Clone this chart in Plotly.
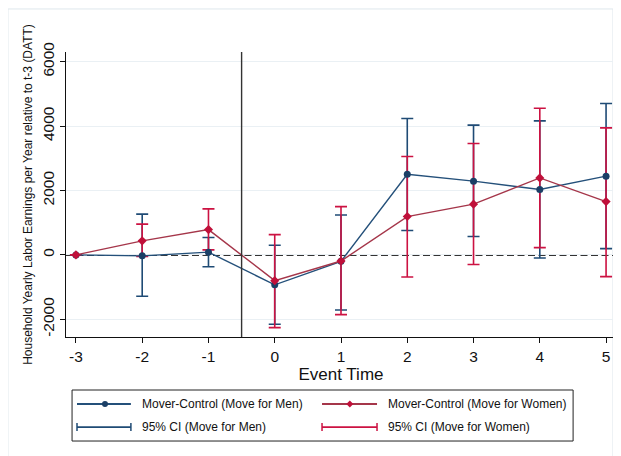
import plotly.graph_objects as go

event_time = [-3, -2, -1, 0, 1, 2, 3, 4, 5]

men_est = [0, -30, 85, -930, -200, 2505, 2290, 2030, 2445]
men_lo = [0, -1285, -370, -2155, -1710, 755, 570, -95, 195]
men_hi = [0, 1265, 540, 300, 1240, 4235, 4030, 4160, 4700]

women_est = [0, 435, 785, -800, -190, 1190, 1575, 2390, 1655]
women_lo = [0, -50, 155, -2260, -1855, -685, -300, 225, -675]
women_hi = [0, 955, 1430, 630, 1500, 3055, 3460, 4555, 3945]

y_ticks = [-2000, 0, 2000, 4000, 6000]

BLUE_LINE = "#24507a"
BLUE_MK = "#1b3f66"
BLUE_CI = "#1f4b75"
RED_LINE = "#a5364a"
RED_MK = "#c0103a"
RED_CI = "#cc1242"
FONT = "Arial, Liberation Sans, sans-serif"

fig = go.Figure()

# confidence intervals first so the lines sit on top
for est, lo, hi, col in [(men_est, men_lo, men_hi, BLUE_CI),
                         (women_est, women_lo, women_hi, RED_CI)]:
    fig.add_trace(go.Scatter(
        x=event_time, y=est, mode="markers",
        marker=dict(color="rgba(0,0,0,0)", size=1),
        error_y=dict(type="data", symmetric=False,
                     array=[h - e for h, e in zip(hi, est)],
                     arrayminus=[e - l for e, l in zip(est, lo)],
                     color=col, thickness=1.6, width=6),
        showlegend=False, hoverinfo="skip", cliponaxis=False))

fig.add_trace(go.Scatter(
    x=event_time, y=men_est, mode="lines+markers",
    line=dict(color=BLUE_LINE, width=1.4),
    marker=dict(color=BLUE_MK, size=7, symbol="circle"),
    showlegend=False, cliponaxis=False))
fig.add_trace(go.Scatter(
    x=event_time, y=women_est, mode="lines+markers",
    line=dict(color=RED_LINE, width=1.4),
    marker=dict(color=RED_MK, size=7, symbol="diamond"),
    showlegend=False, cliponaxis=False))

shapes = [
    # outer frame
    dict(type="rect", xref="paper", yref="paper", x0=-0.1055, x1=0.9945,
         y0=-0.45, y1=1.151, line=dict(color="#dfe7ec", width=1), layer="below"),
    dict(type="line", xref="x", yref="paper", x0=-0.5, x1=-0.5, y0=0, y1=1,
         line=dict(color="#333333", width=1.4)),
    dict(type="line", xref="paper", yref="y", x0=0, x1=1, y0=0, y1=0,
         line=dict(color="#333333", width=2, dash="7px,3.5px"), layer="between"),
    # legend box
    dict(type="rect", xref="paper", yref="paper", x0=0.011, x1=0.922,
         y0=-0.365, y1=-0.186, line=dict(color="#222222", width=1)),
]

annotations = []
legend_rows = [
    (-0.235, 0.020, 0.118, 0.0709, BLUE_LINE, BLUE_MK, "circle", 0.1345,
     "Mover-Control (Move for Men)"),
    (-0.235, 0.4655, 0.5655, 0.516, RED_LINE, RED_MK, "diamond", 0.5818,
     "Mover-Control (Move for Women)"),
]
for yy, xa, xb, xm, lc, mc, sym, xt, txt in legend_rows:
    shapes.append(dict(type="line", xref="paper", yref="paper", x0=xa, x1=xb,
                       y0=yy, y1=yy, line=dict(color=lc, width=2)))
    if sym == "circle":
        shapes.append(dict(type="circle", xref="paper", yref="paper",
                           xsizemode="pixel", ysizemode="pixel", xanchor=xm, yanchor=yy,
                           x0=-3, x1=3, y0=-3, y1=3, fillcolor=mc, line=dict(width=0)))
    else:
        shapes.append(dict(type="path", xref="paper", yref="paper",
                           xsizemode="pixel", ysizemode="pixel", xanchor=xm, yanchor=yy,
                           path="M 0 -3.5 L 3.5 0 L 0 3.5 L -3.5 0 Z",
                           fillcolor=mc, line=dict(width=0)))
    annotations.append(dict(xref="paper", yref="paper", x=xt, y=yy, text=txt,
                            showarrow=False, xanchor="left", yanchor="middle",
                            font=dict(family=FONT, size=12, color="#111111")))

ci_rows = [
    (-0.316, 0.020, 0.118, BLUE_CI, 0.1345, "95% CI (Move for Men)"),
    (-0.316, 0.4655, 0.5655, RED_CI, 0.5818, "95% CI (Move for Women)"),
]
for yy, xa, xb, col, xt, txt in ci_rows:
    shapes.append(dict(type="line", xref="paper", yref="paper", x0=xa, x1=xb,
                       y0=yy, y1=yy, line=dict(color=col, width=1.8)))
    for xc in (xa, xb):
        shapes.append(dict(type="line", xref="paper", yref="paper",
                           ysizemode="pixel", yanchor=yy, x0=xc, x1=xc,
                           y0=-4, y1=4, line=dict(color=col, width=1.5)))
    annotations.append(dict(xref="paper", yref="paper", x=xt, y=yy, text=txt,
                            showarrow=False, xanchor="left", yanchor="middle",
                            font=dict(family=FONT, size=12, color="#111111")))

# page body adds an 8px offset, so margins are set 8px smaller on the left/top
fig.update_layout(
    width=621, height=456,
    margin=dict(l=58, r=13, t=44, b=127),
    paper_bgcolor="white", plot_bgcolor="white",
    font=dict(family=FONT, color="#111111"),
    shapes=shapes, annotations=annotations,
    showlegend=False,
)
fig.update_xaxes(
    range=[-3.15, 5.15], tickvals=event_time, ticktext=[str(v) for v in event_time],
    showgrid=False, zeroline=False, automargin=False,
    showline=True, linecolor="#111111", linewidth=1,
    ticks="outside", ticklen=5, tickcolor="#111111",
    tickfont=dict(size=15.5),
    title=dict(text="Event Time", font=dict(size=17), standoff=2),
)
fig.update_yaxes(
    range=[-2550, 6300], tickvals=y_ticks, ticktext=[str(v) for v in y_ticks],
    tickangle=-90, automargin=False,
    showgrid=True, gridcolor="#eaf0f4", gridwidth=1, zeroline=False,
    showline=True, linecolor="#111111", linewidth=1,
    ticks="outside", ticklen=5, tickcolor="#111111",
    tickfont=dict(size=15.5),
    title=dict(text="Household Yearly Labor Earnings per Year relative to t-3 (DATT)",
               font=dict(size=12), standoff=4),
)

fig.write_html("out.html")
